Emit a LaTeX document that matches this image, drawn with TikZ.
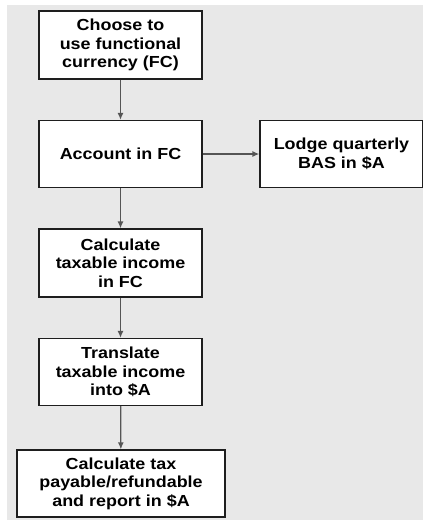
\documentclass[tikz,border=0pt]{standalone}
\usepackage{fontspec}
\setmainfont[FakeStretch=1.12]{Liberation Sans}
\usepackage{tikz}
\usetikzlibrary{arrows.meta}
\definecolor{fondoG}{HTML}{E8E8E8}
\definecolor{bordeC}{HTML}{1E1E1E}
\definecolor{flechaG}{HTML}{555555}

\begin{document}
\begin{tikzpicture}[x=1pt,y=-1pt,
    caja/.style={draw=bordeC,line width=1.3pt,fill=white,align=center,
      minimum width=163pt,minimum height=67pt,inner sep=0pt,
      font=\fontsize{16}{18.5}\selectfont\bfseries},
    flecha/.style={draw=flechaG,line width=1.3pt,-{Latex[length=7pt,width=6pt]}}]
    % fondo
    \useasboundingbox (0,0) rectangle (423,520);
    \fill[fondoG] (7,5) rectangle (423,520);
    % cajas
    \node[caja,minimum height=68pt] (elegir) at (120.5,45) {Choose to\\use functional\\currency (FC)};
    \node[caja] (contab) at (120.5,154) {Account in FC};
    \node[caja] (bas) at (341.5,154) {Lodge quarterly\\BAS in \$A};
    \node[caja,minimum height=68pt] (renta) at (120.5,263) {Calculate\\taxable income\\in FC};
    \node[caja] (traducir) at (120.5,372) {Translate\\taxable income\\into \$A};
    \node[caja,minimum width=208pt] (impuesto) at (121,483.5)
      {Calculate tax\\payable/refundable\\and report in \$A};
    % flechas
    \draw[flecha] (elegir) -- (contab);
    \draw[flecha] (contab) -- (bas);
    \draw[flecha] (contab) -- (renta);
    \draw[flecha] (renta) -- (traducir);
    \draw[flecha] (traducir) -- (impuesto);
  \end{tikzpicture}
\end{document}
